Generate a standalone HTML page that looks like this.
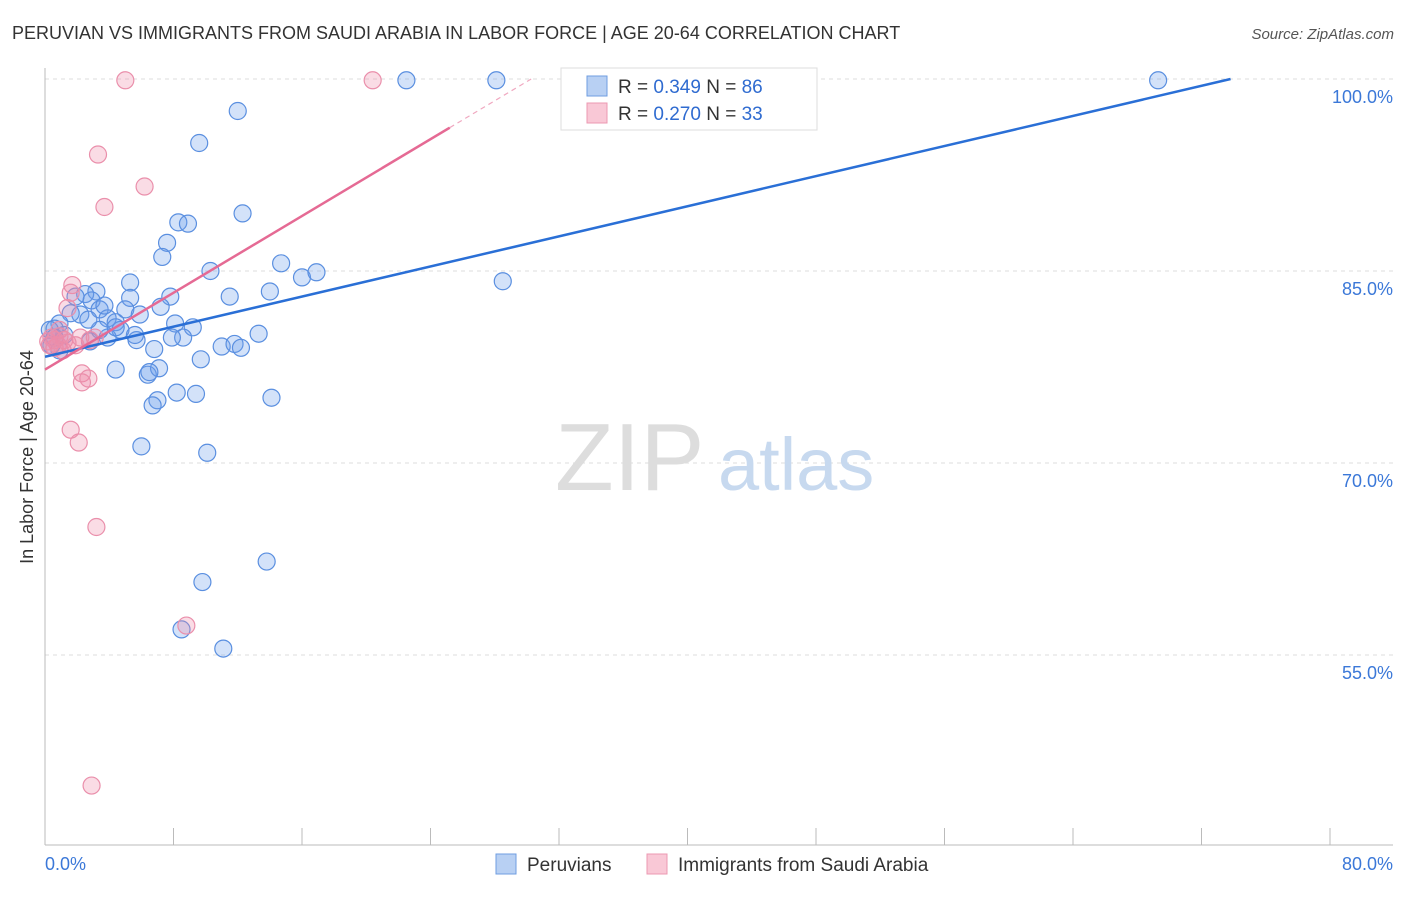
<!DOCTYPE html>
<html><head><meta charset="utf-8"><style>
body{margin:0;background:#fff;font-family:"Liberation Sans",sans-serif}
svg text{font-family:"Liberation Sans",sans-serif}
</style></head><body>
<svg id="chart" width="1406" height="892" xmlns="http://www.w3.org/2000/svg">
<text x="12" y="39" font-size="18" fill="#333">PERUVIAN VS IMMIGRANTS FROM SAUDI ARABIA IN LABOR FORCE | AGE 20-64 CORRELATION CHART</text>
<text x="1394" y="39" font-size="15" fill="#555" text-anchor="end" font-style="italic">Source: ZipAtlas.com</text>
<text transform="translate(33,457) rotate(-90)" font-size="18" fill="#333" text-anchor="middle">In Labor Force | Age 20-64</text>
<g id="grid"></g>
<text x="555" y="490" font-size="96" fill="#ddd" font-family="Liberation Serif">ZIP</text>
<text x="718" y="490" font-size="74" fill="#c7d9ef">atlas</text>
<g id="pts"></g>
<g id="lines"></g>
<g>
<rect x="561" y="68" width="256" height="62" fill="#fff" stroke="#ddd"/>
<rect x="587" y="76" width="20" height="20" fill="#b8d0f3" stroke="#6f9ee0"/>
<rect x="587" y="103" width="20" height="20" fill="#f9c8d6" stroke="#ec98b2"/>
<text x="618" y="93" font-size="19" fill="#333">R = <tspan fill="#2f6bd0">0.349</tspan>    N = <tspan fill="#2f6bd0">86</tspan></text>
<text x="618" y="120" font-size="19" fill="#333">R = <tspan fill="#2f6bd0">0.270</tspan>    N = <tspan fill="#2f6bd0">33</tspan></text>
</g>
<g>
<rect x="496" y="854" width="20" height="20" fill="#b8d0f3" stroke="#6f9ee0"/>
<text x="527" y="871" font-size="19" fill="#333">Peruvians</text>
<rect x="647" y="854" width="20" height="20" fill="#f9c8d6" stroke="#ec98b2"/>
<text x="678" y="871" font-size="19" fill="#333">Immigrants from Saudi Arabia</text>
</g>
</svg>
<script>
const blueX=[22.5,28.1,69.3,12.0,9.6,12.3,8.3,8.9,7.6,7.3,10.3,14.7,16.0,16.9,28.5,5.3,7.8,11.5,14.0,5.3,3.2,2.5,2.9,1.9,5.0,7.2,3.4,3.9,2.2,1.6,0.9,0.6,0.3,4.4,4.7,5.9,8.1,9.2,13.3,8.6,7.9,5.7,3.9,2.8,0.6,6.8,11.0,11.8,12.2,9.7,4.4,6.4,7.1,6.5,8.2,9.4,7.0,6.7,14.1,6.0,10.1,13.8,9.8,8.5,11.1,0.9,0.4,1.2,3.4,2.7,3.7,4.4,5.6];
const blueY=[99.9,99.9,99.9,97.5,95.0,89.5,88.8,88.7,87.2,86.1,85.0,85.6,84.5,84.9,84.2,84.1,83.0,83.0,83.4,82.9,83.4,83.2,82.7,83.0,82.0,82.2,82.0,81.3,81.6,81.7,80.9,80.5,80.4,81.0,80.4,81.6,80.9,80.6,80.1,79.8,79.8,79.6,79.8,79.5,79.8,78.9,79.1,79.3,79.0,78.1,77.3,76.9,77.4,77.1,75.5,75.4,74.9,74.5,75.1,71.3,70.8,62.3,60.7,57.0,55.5,78.8,79.2,80.0,80.4,81.2,82.3,80.6,80.0];
const pinkX=[5.0,20.4,3.3,6.2,3.7,1.7,1.6,1.4,0.9,0.6,0.8,1.2,0.3,0.6,2.8,3.1,2.2,2.3,2.3,2.7,1.6,2.1,3.2,8.8,2.9,1.1,1.9,0.2,0.4,0.9,1.4];
const pinkY=[99.9,99.9,94.1,91.6,90.0,83.9,83.3,82.1,80.4,79.6,79.2,79.6,79.2,79.0,79.6,79.8,79.8,77.0,76.3,76.6,72.6,71.6,65.0,57.3,44.8,78.8,79.2,79.5,79.8,79.9,79.4];
const yTicks=[100,85,70,55];
const xTicks=[0,8,16,24,32,40,48,56,64,72,80];
const blueTrend=[78.3,0.294];
const pinkTrend=[77.3,0.75];
const X0=45,X1=1330,Ytop=79;
const sx=v=>X0+(v/80)*(X1-X0);
const sy=v=>Ytop+(100-v)/15*192;
const NS="http://www.w3.org/2000/svg";
function mk(p,t,a){const e=document.createElementNS(NS,t);for(const k in a)e.setAttribute(k,a[k]);p.appendChild(e);return e;}
const grid=document.getElementById('grid');
yTicks.forEach(t=>{
 const l=mk(grid,'line',{x1:45,x2:1393,y1:sy(t),y2:sy(t),stroke:'#ddd','stroke-dasharray':'4,4'});
 
 
 const tx=mk(grid,'text',{x:1393,y:sy(t)+24,'font-size':18,fill:'#3b78d8','text-anchor':'end'});
 tx.textContent=t.toFixed(1)+'%';
 
 
});
const ax=mk(grid,'line',{x1:45,x2:45,y1:68,y2:845,stroke:'#bbb'});


const bx=mk(grid,'line',{x1:45,x2:1393,y1:845,y2:845,stroke:'#bbb'});


xTicks.forEach(t=>{
 const l=mk(grid,'line',{x1:sx(t),x2:sx(t),y1:828,y2:845,stroke:'#bbb'});
 
 
});
[[0,'start'],[80,'end']].forEach(([t,a])=>{
 const tx=mk(grid,'text',{x:t===0?45:1393,y:870,'font-size':18,fill:'#3b78d8','text-anchor':a});
 tx.textContent=t.toFixed(1)+'%';
 
 
});
const pts=document.getElementById('pts');
blueX.forEach((x,i)=>{
 const c=mk(pts,'circle',{cx:sx(x),cy:sy(blueY[i]),r:8.5,fill:'rgba(110,160,235,0.3)',stroke:'#5a8fe0','stroke-width':1.2});
 
 
});
pinkX.forEach((x,i)=>{
 const c=mk(pts,'circle',{cx:sx(x),cy:sy(pinkY[i]),r:8.5,fill:'rgba(240,140,170,0.3)',stroke:'#ea8fab','stroke-width':1.2});
 
 
});
const lines=document.getElementById('lines');
const bEnd=(100-blueTrend[0])/blueTrend[1];
const bl=mk(lines,'line',{x1:sx(0),y1:sy(blueTrend[0]),x2:sx(bEnd),y2:sy(100),stroke:'#2a6fd6','stroke-width':2.5});


const pSolid=25.2,pEnd=(100-pinkTrend[0])/pinkTrend[1];
const pl=mk(lines,'line',{x1:sx(0),y1:sy(pinkTrend[0]),x2:sx(pSolid),y2:sy(pinkTrend[0]+pinkTrend[1]*pSolid),stroke:'#e56a94','stroke-width':2.5});


const pd=mk(lines,'line',{x1:sx(pSolid),y1:sy(pinkTrend[0]+pinkTrend[1]*pSolid),x2:sx(pEnd),y2:sy(100),stroke:'#f0a8c0','stroke-width':1.2,'stroke-dasharray':'5,4'});


</script>
</body></html>
